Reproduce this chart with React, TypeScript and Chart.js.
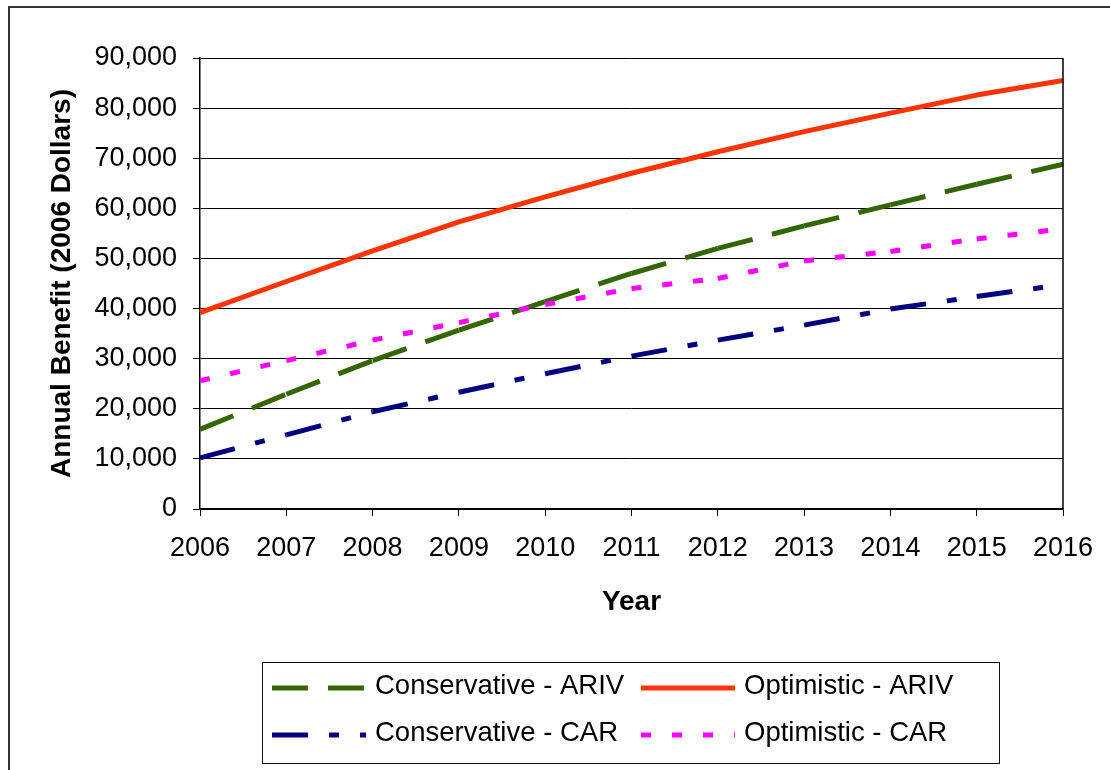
import React, { useEffect, useRef } from "react";
import { Chart, registerables } from "chart.js";

Chart.register(...registerables);

// ---- data -------------------------------------------------------------
const years = ["2006", "2007", "2008", "2009", "2010", "2011", "2012", "2013", "2014", "2015", "2016"];

const conservativeAriv = [15900, 22900, 29600, 35700, 41400, 47000, 52000, 56500, 60700, 64800, 68800];
const optimisticAriv = [39200, 45400, 51500, 57300, 62300, 67000, 71300, 75300, 79000, 82600, 85500];
const conservativeCar = [10200, 14800, 19400, 23300, 27000, 30500, 33700, 36700, 39900, 42400, 44800];
const optimisticCar = [25600, 29600, 33700, 37200, 40800, 44000, 46000, 49500, 51400, 53900, 55900];

const seriesLabels = ["Conservative - ARIV", "Optimistic - ARIV", "Conservative - CAR", "Optimistic - CAR"];

const yMin = 0;
const yMax = 90000;
const yStep = 10000;

const xTitle = "Year";
const yTitle = "Annual Benefit (2006 Dollars)";

// ---- styling ----------------------------------------------------------
const FONT = '"Liberation Sans", Arial, Helvetica, sans-serif';
const GREEN = "#336600";
const RED = "#FF3300";
const NAVY = "#000080";
const MAGENTA = "#FF00FF";

// Restart the dash pattern at every data point (each segment stroked alone).
const restartDash = {
  borderDashOffset: (ctx: any) => (ctx.p0DataIndex % 2) * 0.01,
};

// Right-hand edge of the plot frame.
const frameRight = {
  id: "frameRight",
  afterDatasetsDraw(chart: any) {
    const { ctx, chartArea } = chart;
    ctx.save();
    ctx.strokeStyle = "#000";
    ctx.lineWidth = 1.5;
    ctx.beginPath();
    ctx.moveTo(chartArea.right, chartArea.top);
    ctx.lineTo(chartArea.right, chartArea.bottom);
    ctx.stroke();
    ctx.restore();
  },
};

// Boxed two-column legend below the plot.
const LEGEND_BOX = { x: 252.5, y: 654.5, w: 737, h: 101 };
const LEGEND_COLS = [262, 631];
const LEGEND_ROWS = [680, 727];
const SAMPLE_LEN = 94;

const boxLegend = {
  id: "boxLegend",
  afterDraw(chart: any) {
    const ctx = chart.ctx as CanvasRenderingContext2D;
    ctx.save();
    ctx.strokeStyle = "#111";
    ctx.lineWidth = 1;
    ctx.setLineDash([]);
    ctx.strokeRect(LEGEND_BOX.x, LEGEND_BOX.y, LEGEND_BOX.w, LEGEND_BOX.h);

    chart.data.datasets.forEach((ds: any, i: number) => {
      const col = i % 2;
      const row = Math.floor(i / 2);
      const x = LEGEND_COLS[col];
      const y = LEGEND_ROWS[row];
      ctx.strokeStyle = ds.borderColor;
      ctx.lineWidth = ds.borderWidth;
      ctx.lineCap = "butt";
      ctx.setLineDash(ds.borderDash || []);
      ctx.beginPath();
      ctx.moveTo(x, y);
      ctx.lineTo(x + SAMPLE_LEN, y);
      ctx.stroke();

      ctx.setLineDash([]);
      ctx.fillStyle = "#000";
      ctx.font = `27.5px ${FONT}`;
      ctx.textBaseline = "middle";
      ctx.textAlign = "left";
      ctx.fillText(ds.label, x + SAMPLE_LEN + 9, y - 2);
    });
    ctx.restore();
  },
};

export default function App() {
  const canvasRef = useRef<HTMLCanvasElement | null>(null);

  useEffect(() => {
    if (!canvasRef.current) return;
    const chart = new Chart(canvasRef.current, {
      type: "line",
      data: {
        labels: years,
        datasets: [
          {
            label: seriesLabels[0],
            data: conservativeAriv,
            borderColor: GREEN,
            backgroundColor: GREEN,
            borderWidth: 5,
            borderDash: [36, 20],
            borderCapStyle: "butt",
            segment: restartDash,
            pointRadius: 0,
            tension: 0,
            order: 4,
          },
          {
            label: seriesLabels[1],
            data: optimisticAriv,
            borderColor: RED,
            backgroundColor: RED,
            borderWidth: 5,
            borderJoinStyle: "round",
            pointRadius: 0,
            tension: 0,
            order: 3,
          },
          {
            label: seriesLabels[2],
            data: conservativeCar,
            borderColor: NAVY,
            backgroundColor: NAVY,
            borderWidth: 5,
            borderDash: [36, 21, 10, 21],
            borderCapStyle: "butt",
            segment: restartDash,
            pointRadius: 0,
            tension: 0,
            order: 2,
          },
          {
            label: seriesLabels[3],
            data: optimisticCar,
            borderColor: MAGENTA,
            backgroundColor: MAGENTA,
            borderWidth: 5,
            borderDash: [10, 21],
            borderCapStyle: "butt",
            segment: restartDash,
            pointRadius: 0,
            tension: 0,
            order: 1,
          },
        ],
      },
      options: {
        responsive: false,
        animation: false,
        layout: { padding: { left: 0, right: 47, top: 50, bottom: 141 } },
        plugins: {
          legend: { display: false },
          tooltip: { enabled: false },
          title: { display: false },
        },
        scales: {
          x: {
            type: "category",
            offset: false,
            afterFit: (scale: any) => {
              scale.height = 120;
            },
            grid: {
              drawOnChartArea: false,
              drawTicks: true,
              tickLength: 7,
              color: "#000",
              lineWidth: 1,
            },
            border: { display: true, color: "#000", width: 1.5 },
            ticks: {
              color: "#000",
              padding: 16,
              maxRotation: 0,
              autoSkip: false,
              font: { family: FONT, size: 27 },
            },
            title: {
              display: true,
              text: xTitle,
              color: "#000",
              padding: { top: 0, bottom: 10 },
              font: { family: FONT, size: 28, weight: "bold" },
            },
          },
          y: {
            min: yMin,
            max: yMax,
            afterFit: (scale: any) => {
              scale.width = 190;
            },
            grid: {
              color: "#000",
              lineWidth: 1,
              tickLength: 7,
              drawTicks: true,
            },
            border: { display: true, color: "#000", width: 1.5 },
            ticks: {
              stepSize: yStep,
              color: "#000",
              padding: 16,
              font: { family: FONT, size: 27 },
              callback: (v: any) => Number(v).toLocaleString("en-US"),
            },
            title: {
              display: true,
              text: yTitle,
              color: "#000",
              padding: { top: 35, bottom: 0 },
              font: { family: FONT, size: 28, weight: "bold" },
            },
          },
        },
      },
      plugins: [frameRight, boxLegend],
    });
    return () => chart.destroy();
  }, []);

  return (
    <div
      style={{
        position: "fixed",
        left: 8,
        top: 6,
        width: 1110,
        height: 770,
        borderLeft: "2px solid #333",
        borderTop: "2px solid #333",
        background: "#fff",
      }}
    >
      <canvas ref={canvasRef} width={1100} height={762} style={{ display: "block" }} />
    </div>
  );
}
